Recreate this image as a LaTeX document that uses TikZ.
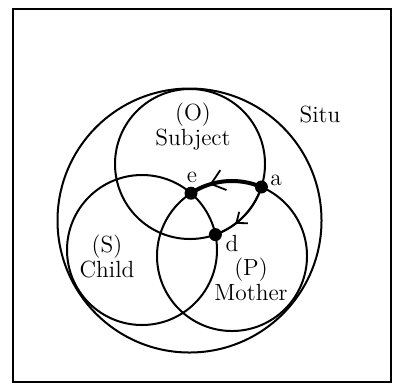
\documentclass[tikz,border=0pt]{standalone}
\usetikzlibrary{arrows.meta,decorations.markings}
\begin{document}
\begin{tikzpicture}[x=0.5pt,y=-0.5pt,
  ring/.style={line width=1pt},
  dotmark/.style={circle,fill=black,inner sep=0pt,minimum size=6.5pt},
  lbl/.style={font=\fontsize{11.7}{12.5}\selectfont,inner sep=0pt,align=center},
  barbat/.style 2 args={postaction={decorate,decoration={markings,
     mark=at position #1 with {\arrow{Straight Barb[length=#2,width=1.6*#2,line width=0.9pt]}}}}}]
\useasboundingbox (0,0) rectangle (394,386);
\draw[line width=1pt] (13,9) rectangle (391,382);
% circle centres
\coordinate (U) at (189.5,220.5);
\coordinate (O) at (190,164);
\coordinate (S) at (142,250);
\coordinate (P) at (232,256);
\draw[ring] (U) circle[radius=132];
\draw[ring] (O) circle[radius=75];
\draw[ring] (S) circle[radius=75];
\draw[ring] (P) circle[radius=75];
% points
\node[dotmark] (e) at (191,193.2) {};
\node[dotmark] (a) at (261.4,187) {};
\node[dotmark] (d) at (215.4,234.6) {};
% arrows
\draw[line width=2pt,barbat={0.72}{6.5pt}] (a.center) arc[start angle=-66.9,end angle=-123.1,radius=75];
\draw[ring,barbat={0.67}{4.5pt}] (a.center) arc[start angle=17.9,end angle=70.2,radius=75];
% labels
\node[lbl] (subj) at (193,127) {(O)\\Subject};
\node[lbl] (situ) at (320,115) {Situ};
\node[lbl] (le) at (192,177) {e};
\node[lbl] (la) at (276,180) {a};
\node[lbl] (ld) at (232,243) {d};
\node[lbl] (child) at (107,256) {(S)\\Child};
\node[lbl] (mother) at (251,279) {(P)\\Mother};
\end{tikzpicture}
\end{document}
